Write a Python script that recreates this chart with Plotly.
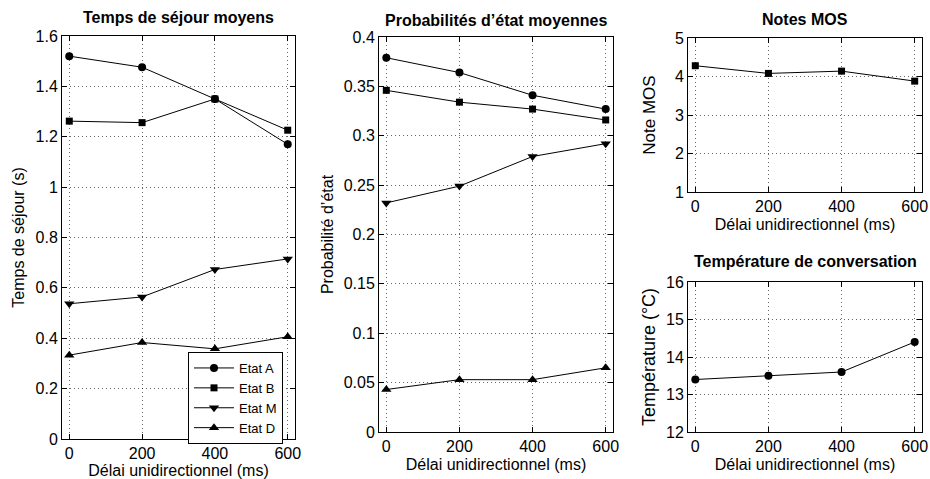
import plotly.graph_objects as go

delay = [0, 200, 400, 600]
x_ticks = [0, 200, 400, 600]

sejour_A = [1.52, 1.476, 1.35, 1.17]
sejour_B = [1.262, 1.256, 1.35, 1.226]
sejour_M = [0.537, 0.564, 0.673, 0.715]
sejour_D = [0.333, 0.383, 0.358, 0.406]

prob_A = [0.379, 0.364, 0.341, 0.327]
prob_B = [0.346, 0.334, 0.327, 0.316]
prob_M = [0.232, 0.249, 0.279, 0.292]
prob_D = [0.043, 0.053, 0.053, 0.065]

mos = [4.28, 4.08, 4.14, 3.88]
temperature = [13.4, 13.5, 13.6, 14.4]

states = ["Etat A", "Etat B", "Etat M", "Etat D"]
symbols = ["circle", "square", "triangle-down", "triangle-up"]
msizes = [8, 7, 9, 9]

FONT = "Liberation Sans, Arial, Helvetica, sans-serif"
W, H = 930, 479
TICK = 16

fig = go.Figure()

def add(x, y, sym, size, xa, ya, name=None, legend=False):
    fig.add_trace(go.Scatter(
        x=x, y=y, mode="lines+markers", name=name, showlegend=legend,
        line=dict(color="black", width=1),
        marker=dict(symbol=sym, size=size, color="black"),
        xaxis=xa, yaxis=ya))

for vals, nm, sym, sz in zip([sejour_A, sejour_B, sejour_M, sejour_D], states, symbols, msizes):
    add(delay, vals, sym, sz, "x", "y", nm, True)
for vals, nm, sym, sz in zip([prob_A, prob_B, prob_M, prob_D], states, symbols, msizes):
    add(delay, vals, sym, sz, "x2", "y2")
add(delay, mos, "square", 7, "x3", "y3")
add(delay, temperature, "circle", 8, "x4", "y4")

def px(a, b):
    return [a / W, b / W]

def py(top, bottom):
    return [(H - bottom) / H, (H - top) / H]

axcommon = dict(showline=True, linecolor="black", linewidth=1, mirror="ticks",
                ticks="inside", ticklen=5, tickcolor="black",
                showgrid=True, gridcolor="rgba(0,0,0,0.6)", griddash="1px,3px", gridwidth=1,
                zeroline=False, tickfont=dict(family=FONT, size=TICK, color="black"),
                automargin=False)

def xax(dom, anchor):
    return dict(domain=dom, anchor=anchor, range=[-20, 620], tickvals=x_ticks,
                title=dict(text="Délai unidirectionnel (ms)", font=dict(family=FONT, size=16, color="black"), standoff=4),
                **axcommon)

def yax(dom, anchor, rng, tv, tt, title, size=16, standoff=6):
    return dict(domain=dom, anchor=anchor, range=rng, tickvals=tv, ticktext=tt,
                title=dict(text=title, font=dict(family=FONT, size=size, color="black"), standoff=standoff),
                **axcommon)

d1x, d1y = px(62, 295), py(36, 439)
d2x, d2y = px(379, 613), py(37, 432)
d3x, d3y = px(688, 922), py(38, 192)
d4x, d4y = px(688, 922), py(282, 432)

fig.update_layout(
    width=W, height=H, margin=dict(l=0, r=0, t=0, b=0, pad=0), autosize=False,
    plot_bgcolor="white", paper_bgcolor="white",
    font=dict(family=FONT, size=14, color="black"),
    xaxis=xax(d1x, "y"),
    yaxis=yax(d1y, "x", [0, 1.6], [0, 0.2, 0.4, 0.6, 0.8, 1, 1.2, 1.4, 1.6],
              ["0", "0.2", "0.4", "0.6", "0.8", "1", "1.2", "1.4", "1.6"], "Temps de séjour (s)"),
    xaxis2=xax(d2x, "y2"),
    yaxis2=yax(d2y, "x2", [0, 0.4], [0, 0.05, 0.1, 0.15, 0.2, 0.25, 0.3, 0.35, 0.4],
               ["0", "0.05", "0.1", "0.15", "0.2", "0.25", "0.3", "0.35", "0.4"], "Probabilité d’état"),
    xaxis3=xax(d3x, "y3"),
    yaxis3=yax(d3y, "x3", [1, 5], [1, 2, 3, 4, 5], ["1", "2", "3", "4", "5"], "Note MOS",
               size=17, standoff=14),
    xaxis4=xax(d4x, "y4"),
    yaxis4=yax(d4y, "x4", [12, 16], [12, 13, 14, 15, 16], ["12", "13", "14", "15", "16"], "Température (°C)",
               size=18, standoff=5),
    legend=dict(x=188 / W, y=(H - 352) / H, xanchor="left", yanchor="top",
                bgcolor="white", bordercolor="black", borderwidth=1,
                font=dict(family=FONT, size=13, color="black"), tracegroupgap=0,
                itemwidth=40),
)

titles = [("Temps de séjour moyens", d1x, d1y, 8),
          ("Probabilités d’état moyennes", d2x, d2y, 6),
          ("Notes MOS", d3x, d3y, 8),
          ("Température de conversation", d4x, d4y, 10)]
for txt, dx, dy, ys in titles:
    fig.add_annotation(text="<b>" + txt + "</b>", x=(dx[0] + dx[1]) / 2, y=dy[1],
                       xref="paper", yref="paper", xanchor="center", yanchor="bottom",
                       yshift=ys, showarrow=False, font=dict(family=FONT, size=16, color="black"))

fig.write_html("out.html", config={"displayModeBar": False},
               post_script="document.body.style.margin='0';document.body.style.overflow='hidden';")
